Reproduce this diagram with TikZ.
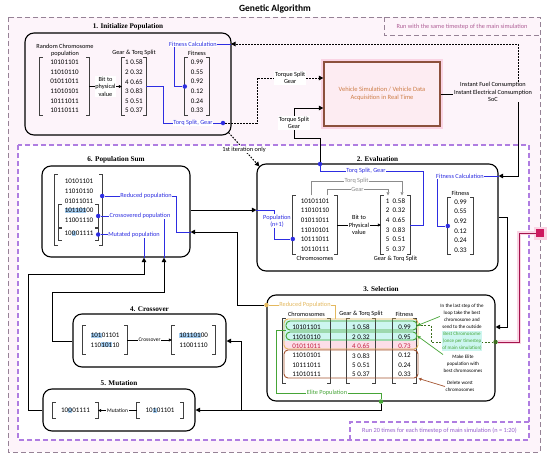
\documentclass[tikz,border=0pt]{standalone}
\usepackage{fontspec}
\setmainfont{Carlito}
\newfontfamily\titlefont{Liberation Serif}
\usetikzlibrary{arrows.meta,positioning,calc}
\definecolor{fitblue}{RGB}{45,45,225}
\definecolor{tanc}{RGB}{228,185,95}
\definecolor{greenc}{RGB}{70,165,55}
\definecolor{darkgreen}{RGB}{60,110,30}
\definecolor{brownc}{RGB}{165,85,50}
\definecolor{simred}{RGB}{205,25,95}
\definecolor{vehborder}{RGB}{140,80,60}
\definecolor{vehfill}{RGB}{253,236,242}
\definecolor{vehtext}{RGB}{205,125,70}
\definecolor{cyanbg}{RGB}{205,246,240}
\definecolor{rowpink}{RGB}{252,222,232}
\definecolor{rowred}{RGB}{195,30,60}
\definecolor{hlblue}{RGB}{165,205,240}
\definecolor{outerc}{RGB}{150,130,150}
\definecolor{outertext}{RGB}{175,95,150}
\definecolor{innerc}{RGB}{175,125,225}
\definecolor{innertext}{RGB}{150,95,205}
\definecolor{pagepink}{RGB}{253,244,250}
\definecolor{glowpink}{RGB}{250,212,228}
\definecolor{graylabel}{RGB}{140,140,140}
\newcommand\matfont{\fontsize{7}{9.6}\selectfont}
\newcommand\lblfont{\fontsize{6.3}{7.4}\selectfont}
\newcommand\notefont{\fontsize{5}{7}\selectfont}
\newcommand\hlbit[1]{{\setlength{\fboxsep}{0.3pt}\colorbox{hlblue}{#1}}}
\newcommand\brackets[1]{%
  \draw[brk] ([xshift=3pt]#1.north west) -| (#1.south west) -- ++(3pt,0pt);
  \draw[brk] ([xshift=-3pt]#1.north east) -| (#1.south east) -- ++(-3pt,0pt);}

\begin{document}
\begin{tikzpicture}[x=1pt, y=-1pt,
    stage/.style={draw=black, line width=1.1pt, rounded corners=9pt, inner sep=0pt},
    stagetitle/.style={font=\titlefont\bfseries\fontsize{7.2}{8}\selectfont, inner sep=0pt},
    mat/.style={align=center, inner sep=0pt, font=\matfont},
    brk/.style={draw=black!75, line width=0.9pt},
    lbl/.style={align=center, font=\lblfont, inner sep=0.6pt},
    onl/.style={lbl, fill=white},
    blabel/.style={onl, text=fitblue},
    note/.style={align=center, font=\notefont, inner sep=0.5pt},
    wire/.style={draw=black, line width=1pt},
    flow/.style={wire, -{Triangle[length=4.5pt,width=4.5pt]}},
    dflow/.style={flow, dash pattern=on 1.6pt off 1.4pt},
    tflow/.style={draw=black, line width=0.6pt, -{Triangle[length=3pt,width=3pt]}},
    bline/.style={draw=fitblue, line width=0.7pt},
    gline/.style={draw=graylabel, line width=0.6pt, -{Triangle[length=3pt,width=3pt]}},
    joint/.style={circle, fill=fitblue, inner sep=0pt, minimum size=4.5pt},
    grp/.style={draw, rounded corners=4pt, line width=0.9pt, inner sep=0pt},
    frame/.style={line width=0.9pt, dash pattern=on 5pt off 3pt}
]
\useasboundingbox (0,0) rectangle (550,458);

% frames
\draw[frame, outerc, fill=pagepink] (8,17) rectangle (540,452);
\draw[frame, outerc] (384,17) |- (540,35);
\node[lbl, text=outertext] (runMain) at (462,26.5) {Run with the same timestep of the main simulation};
\draw[frame, innerc, line width=1.1pt, fill=white] (18,145) rectangle (529,440);
\draw[frame, innerc, line width=1.1pt] (350,440) |- (529,422);
\node[lbl, text=innertext] (runTwenty) at (439.5,431) {Run 20 times for each timestep of main simulation (n = 1:20)};
\node[font=\bfseries\fontsize{9.5}{11}\selectfont] (title) at (275,9) {Genetic Algorithm};

% stages
\node[stage, minimum width=206pt, minimum height=102pt] (init) at (128,84) {};
\node[stagetitle, above=2pt of init] (initT) {1. Initialize Population};
\node[stage, minimum width=241pt, minimum height=107pt] (eval) at (377.5,217.5) {};
\node[stagetitle, above=2pt of eval] (evalT) {2. Evaluation};
\node[stage, minimum width=228pt, minimum height=106pt] (select) at (381,348) {};
\node[stagetitle, above=3pt of select] (selectT) {3. Selection};
\node[stage, minimum width=153pt, minimum height=53pt] (cross) at (149.5,340.5) {};
\node[stagetitle, above=2pt of cross] (crossT) {4. Crossover};
\node[stage, minimum width=152pt, minimum height=42pt] (mutate) at (119,410) {};
\node[stagetitle, above=3pt of mutate] (mutateT) {5. Mutation};
\node[stage, minimum width=148pt, minimum height=91pt] (popsum) at (116,211.5) {};
\node[stagetitle, above=2pt of popsum] (popsumT) {6. Population Sum};

% vehicle
\node[draw=vehborder, line width=1.3pt, fill=vehfill, preaction={draw=glowpink, line width=6pt},
      minimum width=116pt, minimum height=64pt, align=center, text=vehtext,
      font=\fontsize{6.5}{8.5}\selectfont] (veh) at (382,94) {Vehicle Simulation / Vehicle Data\\Acquisition in Real Time};
\node[lbl] (inst) at (493,92) {Instant Fuel Consumption\\Instant Electrical Consumption\\SoC};
\coordinate (instTop) at ([xshift=25pt]inst.north);
\coordinate (instBot) at ([xshift=25pt]inst.south);
\draw[wire] (veh.east) -- (veh.east -| inst.west);

% 1. initialize population
\node[lbl] (randChr) at (65,50.5) {Random Chromosome\\population};
\node[mat, minimum width=49pt, minimum height=58pt] (initChr) at (64.5,86.5) {10101101\\11010110\\01011011\\11010101\\10111011\\10110111};
\node[mat, minimum width=24pt, minimum height=58pt] (initGear) at (134,86.5) {1 0.58\\2 0.32\\4 0.65\\3 0.83\\5 0.51\\5 0.37};
\node[mat, minimum width=24pt, minimum height=58pt] (initFit) at (197,86.5) {0.99\\0.55\\0.92\\0.12\\0.24\\0.33};
\node[lbl, above=1pt of initGear] (initGearT) {Gear \& Torq Split};
\node[lbl, above=1pt of initFit] (initFitT) {Fitness};
\foreach \m in {initChr,initGear,initFit} {\brackets{\m}}
\draw[tflow] (initChr) -- node[onl] {Bit to\\physical\\value} (initGear);

\coordinate (fitInI) at (231,44);
\node[joint] (fitDotI) at (initFit.west) {};
\draw[bline] (fitInI) -| ([xshift=-10pt]fitDotI.center) -- (fitDotI);
\node[blabel] (fitCalcI) at (193,44) {Fitness Calculation};
\node[joint] (torqI) at (223,123) {};
\draw[bline] (initGear.east) -| ([xshift=-60pt]torqI.center) -- (torqI);
\node[blabel] (torqLblI) at (193,123) {Torq Split, Gear};

% outside loop
\coordinate (vehIn1) at (veh.west |- 0,78);
\coordinate (vehIn2) at (veh.west |- 0,108);
\draw[dflow] (instTop) |- (fitInI);
\draw[dflow] (torqI) -- (257,123) -- (257,78) -- node[onl] {Torque Split\\Gear} (vehIn1);
\draw[dflow] ([shift={(-3pt,3pt)}]init.south east) -- node[onl] {1st iteration only} ([shift={(3pt,-3pt)}]eval.north west);
\node[joint] (torqE) at (320,164) {};
\draw[flow] (torqE) -- ++(0,-26) -| (294,108) node[onl, pos=0.75] {Torque Split\\Gear} -- (vehIn2);

% 2. evaluation
\node[mat, minimum width=44pt, minimum height=59pt] (evalChr) at (315,225) {10101101\\11010110\\01011011\\11010101\\10111011\\10110111};
\node[mat, minimum width=29pt, minimum height=59pt] (evalGear) at (395.5,225) {1~~0.58\\2~~0.32\\4~~0.65\\3~~0.83\\5~~0.51\\5~~0.37};
\node[mat, minimum width=25pt, minimum height=57pt] (evalFit) at (460.5,226) {0.99\\0.55\\0.92\\0.12\\0.24\\0.33};
\node[lbl, below=1pt of evalChr] (evalChrT) {Chromosomes};
\node[lbl, below=1pt of evalGear] (evalGearT) {Gear \& Torq Split};
\node[lbl, above=1pt of evalFit] (evalFitT) {Fitness};
\foreach \m in {evalChr,evalGear,evalFit} {\brackets{\m}}
\draw[tflow] (evalChr) -- node[onl] {Bit to\\Physical\\value} (evalGear);
\draw[gline] ([xshift=-4pt]evalChr.north) -- ++(0,-14) -| node[onl, text=graylabel, pos=0.25] {Torq Split} ([xshift=6.5pt]evalGear.north);
\draw[gline] ([xshift=12pt]evalChr.north) -- ++(0,-6) -| node[onl, text=graylabel, pos=0.25] {Gear} ([xshift=-7.5pt]evalGear.north);

\draw[bline] (evalGear.east) -- ++(13,0) |- ([yshift=-7pt]torqE.center) -- (torqE);
\node[blabel] (torqLblE) at (366,171) {Torq Split, Gear};
\coordinate (fitInE) at (eval.east |- 0,176);
\node[joint] (fitDotE) at (evalFit.west) {};
\draw[flow] (instBot) |- (fitInE);
\draw[bline] (fitInE) -| ([xshift=-10pt]fitDotE.center) -- (fitDotE);
\node[blabel] (fitCalcE) at (460,176) {Fitness Calculation};
\coordinate (popInE) at (eval.west |- 0,210);
\node[joint] (popDotE) at (evalChr.west |- 0,239) {};
\draw[bline] (popInE) -| ([xshift=-18pt]popDotE.center) -- (popDotE);
\node[blabel] (popLblE) at (277,221) {Population\\(n+1)};
\draw[flow] (popsum.east |- popInE) -- (popInE);
\coordinate (selIn) at (select.east |- 0,327);
\draw[flow] (eval.east |- 0,217) -- ++(9,0) |- (selIn);

% 3. selection
\fill[cyanbg] (283,320) rectangle (417,341);
\fill[rowpink] (283,341) rectangle (417,350);
\node[mat, font=\fontsize{7}{9.4}\selectfont, minimum width=47pt, minimum height=64pt] (selChr) at (306.5,351) {10101101\\11010110\\\textcolor{rowred}{01011011}\\11010101\\10111011\\11010111};
\node[mat, font=\fontsize{7}{9.4}\selectfont, minimum width=28pt, minimum height=64pt] (selGear) at (361,351) {1 0.58\\2 0.32\\\textcolor{rowred}{4 0.65}\\3 0.83\\5 0.51\\5 0.37};
\node[mat, font=\fontsize{7}{9.4}\selectfont, minimum width=23pt, minimum height=64pt] (selFit) at (404.5,351) {0.99\\0.95\\\textcolor{rowred}{0.73}\\0.12\\0.24\\0.33};
\node[lbl, above=1pt of selChr] (selChrT) {Chromosomes};
\node[lbl, above=1pt of selGear] (selGearT) {Gear \& Torq Split};
\node[lbl, above=1pt of selFit] (selFitT) {Fitness};
\foreach \m in {selChr,selGear,selFit} {\brackets{\m}}
\node[grp, draw=tanc, minimum width=134pt, minimum height=30pt] (reducedGrp) at (351,334) {};
\node[grp, draw=brownc, minimum width=134pt, minimum height=28pt] (worstGrp) at (351,364) {};
\node[grp, draw=greenc, minimum width=131pt, minimum height=9pt] (elite1) at (351.5,325.5) {};
\node[grp, draw=greenc, minimum width=131pt, minimum height=8pt] (elite2) at (351.5,336) {};

\node[joint, fill=tanc] (redSel) at (select.west |- 0,305) {};
\draw[draw=tanc, line width=0.8pt] (redSel) -| ([xshift=-16pt]reducedGrp.north);
\node[onl, text=tanc] (redSelT) at (305,305) {Reduced Population};
\node[joint, fill=greenc] (eliteDot) at (select.south -| 381,0) {};
\draw[draw=greenc, line width=0.8pt] (elite1.south west) -- ++(-9,0) |- ([yshift=8pt]eliteDot.center) -- (eliteDot);
\node[onl, text=greenc] (eliteT) at (327,393) {Elite Population};

\node[note] (lastStep) at (462,316.5) {In the last step of the\\loop take the best\\chromosome and\\send to the outside};
\node[joint, fill=darkgreen] (bestDot) at (select.east |- 0,342) {};
\draw[draw=darkgreen, line width=0.8pt, dash pattern=on 2pt off 1.5pt] (elite1.east) -- ++(14,0) |- (bestDot);
\node[note, text=greenc, fill=cyanbg] (bestChr) at (462,341) {Best Chromosome\\(once per timestep\\of main simulation)};
\node[note] (makeElite) at (463,364) {Make Elite\\population with\\best chromosomes};
\node[note] (delWorst) at (460,386.5) {Delete worst\\chromosomes};
\draw[draw=greenc, line width=0.7pt, -{Triangle[length=3pt,width=3pt]}] (lastStep.west) -- (elite1.east);
\draw[draw=greenc, line width=0.7pt, -{Triangle[length=3pt,width=3pt]}] (makeElite.north west) -- (elite2.east);
\draw[draw=brownc, line width=0.7pt, -{Triangle[length=3pt,width=3pt]}] (delWorst.west) -- (worstGrp.south east);

% main simulation link
\node[fill=simred, minimum size=8pt, inner sep=0pt, preaction={draw=glowpink, line width=5pt}] (simSq) at (540,233) {};
\draw[draw=simred!80!black, line width=0.8pt, preaction={draw=glowpink, line width=4pt}] (simSq) -| (519,342) -- (bestDot);

% 4. crossover
\node[mat, minimum width=44pt, minimum height=28pt] (crossL) at (105,340) {\hlbit{101}01101\\110\hlbit{101}10};
\node[mat, minimum width=43pt, minimum height=28pt] (crossR) at (193.5,340) {\hlbit{101101}00\\11001110};
\foreach \m in {crossL,crossR} {\brackets{\m}}
\draw[tflow] (crossL) -- node[onl, font=\fontsize{5.5}{6}\selectfont] {Crossover} (crossR);

% 5. mutation
\node[mat, minimum width=45pt, minimum height=15pt] (mutL) at (75.5,410.5) {10\hlbit{0}01111};
\node[mat, minimum width=46pt, minimum height=15pt] (mutR) at (160,410.5) {10\hlbit{1}01101};
\foreach \m in {mutL,mutR} {\brackets{\m}}
\draw[tflow] (mutR) -- node[onl, font=\fontsize{5.5}{6}\selectfont] {Mutation} (mutL);

% 6. population sum
\node[mat, inner sep=0pt] (popRows) at (79,207.6) {10101101\\11010110\\01011011\\\hlbit{101101}00\\11001110\\[3.4pt]10\hlbit{0}01111};
\node[inner sep=0pt, minimum width=47pt, minimum height=70pt] (popBrk) at (78.5,210) {};
\node[inner sep=0pt, minimum width=39pt, minimum height=22pt] (crossPart) at (78.5,216) {};
\node[inner sep=0pt, minimum width=39pt, minimum height=11pt] (mutPart) at (78.5,234.5) {};
\foreach \m in {popBrk,crossPart,mutPart} {\brackets{\m}}
\node[joint] (redDot) at (popBrk.east |- 0,196) {};
\node[joint] (crossDot) at (crossPart.east) {};
\node[joint] (mutDot) at (mutPart.east) {};
\coordinate (redInP) at (popsum.east |- 0,232);
\coordinate (crossInP) at (popsum.south -| 164,0);
\coordinate (mutInP) at (popsum.south -| 144,0);
\draw[bline] (redDot) -| ([xshift=-14pt]redInP) -- (redInP);
\draw[bline] (crossDot) -| (crossInP);
\draw[bline] (mutDot) -| (mutInP);
\node[blabel] (redLbl) at (146,196) {Reduced population};
\node[blabel] (crossLbl) at (140,216) {Crossovered population};
\node[blabel] (mutLbl) at (134,235) {Mutated population};

% loop connectors
\draw[flow] (redSel) -| ([xshift=47pt]redInP) -- (redInP);
\coordinate (eliteSplit) at (241,410);
\draw[flow] (eliteDot) |- (mutate.east |- 0,410);
\draw[flow] (eliteSplit) |- (cross.east |- 0,341);
\draw[flow] (cross.west |- 0,341) -- ++(-20,0) |- ([yshift=-35pt]crossInP) -- (crossInP);
\draw[flow] (mutate.west) -- ++(-14,0) |- ([yshift=-17pt]mutInP) -- (mutInP);
\end{tikzpicture}
\end{document}
